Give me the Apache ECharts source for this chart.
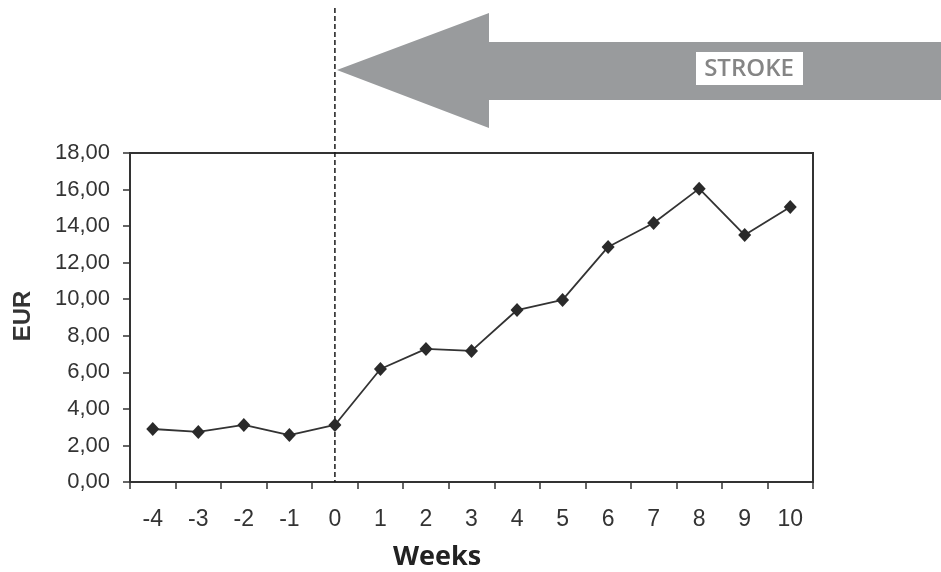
<!DOCTYPE html>
<html>
<head>
<meta charset="utf-8">
<script src="https://cdn.jsdelivr.net/npm/echarts@6/dist/echarts.min.js"></script>
<style>
html,body{margin:0;padding:0;background:#fff;}
#chart{width:941px;height:572px;}
</style>
</head>
<body>
<div id="chart"></div>
<script>
const weeks = ['-4','-3','-2','-1','0','1','2','3','4','5','6','7','8','9','10'];
const eur = [2.90, 2.74, 3.12, 2.57, 3.12, 6.18, 7.28, 7.17, 9.41, 9.96, 12.86, 14.17, 16.05, 13.51, 15.04];
const strokeWeek = '0';
const yMin = 0, yMax = 18, yStep = 2;

const chart = echarts.init(document.getElementById('chart'), null, {renderer:'canvas'});
const axisColor = '#333';
const labelColor = '#333';

chart.setOption({
  animation: false,
  backgroundColor: '#ffffff',
  grid: {left:130, right:128, top:153, bottom:90, show:true, borderColor:axisColor, borderWidth:2, backgroundColor:'transparent'},
  xAxis: {
    type:'category', data: weeks, boundaryGap:true,
    axisLine:{show:true, lineStyle:{color:axisColor, width:2}},
    axisTick:{show:true, inside:false, length:7, lineStyle:{color:axisColor, width:1.5}},
    axisLabel:{color:labelColor, fontFamily:'Liberation Sans, Arial, sans-serif', fontSize:23, margin:26},
    splitLine:{show:false}
  },
  yAxis: {
    type:'value', min:yMin, max:yMax, interval:yStep,
    axisLine:{show:true, lineStyle:{color:axisColor, width:2}},
    axisTick:{show:true, inside:false, length:7, lineStyle:{color:axisColor, width:1.5}},
    axisLabel:{color:labelColor, fontFamily:'Liberation Sans, Arial, sans-serif', fontSize:22, margin:20,
      formatter: v => v.toFixed(2).replace('.', ',')},
    splitLine:{show:false}
  },
  series: [{
    type:'line', data: eur,
    symbol:'diamond', symbolSize:[13,14],
    itemStyle:{color:'#2a2a2a'},
    lineStyle:{color:'#333', width:1.8},
    z:5
  }]
});

const x0 = chart.convertToPixel({xAxisIndex:0}, strokeWeek);
const yBottom = chart.convertToPixel({yAxisIndex:0}, yMin);
const tipX = x0 + 2;

chart.setOption({
  graphic: [
    {type:'polygon', z:1, shape:{points:[[tipX,70],[489,13],[489,42],[941,42],[941,100],[489,100],[489,128]]},
      style:{fill:'#999b9d'}},
    {type:'rect', z:2, shape:{x:696, y:52, width:107, height:33}, style:{fill:'#ffffff'}},
    {type:'text', z:3, x:749, y:69, style:{text:'STROKE', fill:'#858585', font:'600 24px "Open Sans", sans-serif', textAlign:'center', textVerticalAlign:'middle'}},
    {type:'line', z:4, shape:{x1:x0, y1:8, x2:x0, y2:yBottom}, style:{stroke:'#1a1a1a', lineWidth:1.5, lineDash:[5,3]}},
    {type:'text', z:3, x:23, y:316, rotation:Math.PI/2, style:{text:'EUR', fill:'#333', font:'bold 24px "Liberation Sans", Arial, sans-serif', textAlign:'center', textVerticalAlign:'middle'}},
    {type:'text', z:3, x:437, y:557, style:{text:'Weeks', fill:'#222', font:'bold 27px "Open Sans", sans-serif', textAlign:'center', textVerticalAlign:'middle'}}
  ]
});
</script>
</body>
</html>
